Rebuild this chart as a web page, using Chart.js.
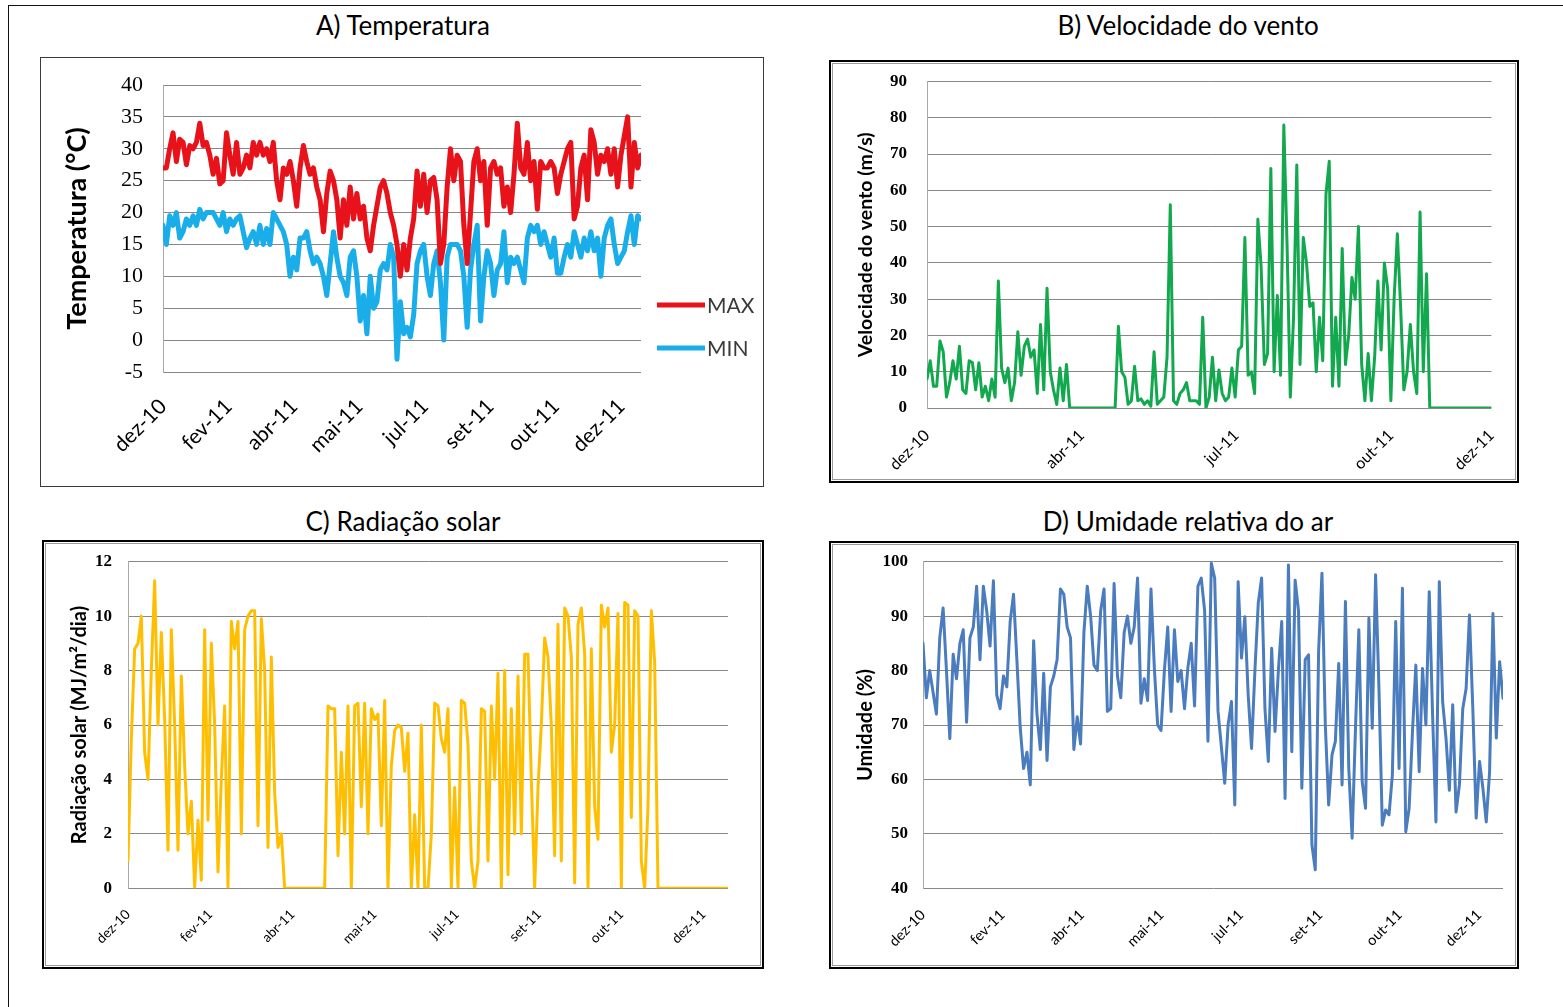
<!DOCTYPE html>
<html lang="pt">
<head>
<meta charset="utf-8">
<script src="https://cdn.jsdelivr.net/npm/chart.js@4.4.1/dist/chart.umd.min.js"></script>
<style>
  body { margin: 0; background: #fff; width: 1563px; height: 1007px; position: relative; overflow: hidden; font-family: Lato, "Open Sans", sans-serif; }
  .frame { position: absolute; left: 8px; top: 5px; width: 1600px; height: 1100px; border-left: 1.5px solid #111; border-top: 1.5px solid #111; }
  .title { position: absolute; width: 700px; text-align: center; font-size: 26px; line-height: 30px; color: #000; }
  .box { position: absolute; box-sizing: border-box; }
  .single { border: 1.5px solid #3a3a3a; }
  .double { border: 2.5px solid #000; }
  .double::after { content: ""; position: absolute; left: 1px; top: 1px; right: 1px; bottom: 1px; border: 1px solid #9a9a9a; }
  canvas { position: absolute; }
</style>
</head>
<body>
<div class="frame"></div>

<div class="title" style="left:53px; top:10px;">A) Temperatura</div>
<div class="title" style="left:838px; top:10px;">B) Velocidade do vento</div>
<div class="title" style="left:53px; top:506px;">C) Radiação solar</div>
<div class="title" style="left:838px; top:506px;">D) Umidade relativa do ar</div>

<div class="box single" style="left:40px; top:57px; width:724px; height:430px;"></div>
<div class="box double" style="left:829px; top:60px; width:690px; height:423px;"></div>
<div class="box double" style="left:42px; top:540px; width:722px; height:429px;"></div>
<div class="box double" style="left:829px; top:541px; width:690px; height:428px;"></div>

<canvas id="chartTemp" width="720" height="426" style="left:42px; top:59px;"></canvas>
<canvas id="chartWind" width="682" height="415" style="left:833px; top:64px;"></canvas>
<canvas id="chartSolar" width="714" height="421" style="left:46px; top:544px;"></canvas>
<canvas id="chartHum" width="682" height="420" style="left:833px; top:545px;"></canvas>

<script>
// eixo x: dias desde dez-10
const monthTicks = [0, 50, 100, 150, 200, 250, 300, 350];
const monthLabels = ["dez-10", "fev-11", "abr-11", "mai-11", "jul-11", "set-11", "out-11", "dez-11"];
const windTicks = [0, 100, 200, 300, 365];
const windLabels = ["dez-10", "abr-11", "jul-11", "out-11", "dez-11"];

// A) temperatura (°C)
const tempMax = [
  27, 27, 30, 32.5, 28, 31.5, 31, 27.5, 30.5, 30,
  31, 34, 30.5, 31, 29, 26, 28.5, 24.5, 25, 32.5,
  29, 26, 31, 26, 27, 29, 27, 31, 29, 31,
  29, 30, 28, 31, 25, 22, 27, 26, 28, 25,
  21, 27, 30.5, 28, 26, 27, 24, 22, 17, 23,
  26.5, 25, 22, 16, 22, 18, 24, 19, 23, 19,
  21, 16, 14, 18, 21, 24, 25, 23, 20, 18,
  15, 10, 15, 11, 16, 19, 26.5,
  21, 26, 20, 25, 25.5, 22, 12, 15, 24, 30,
  25, 29, 28, 18, 12, 20, 28, 30, 25, 28,
  18, 27, 28, 26, 27, 21, 24, 20, 26, 34,
  27, 26, 31, 25, 28, 20.5, 28, 27, 27, 28,
  27, 23, 26, 28, 30, 31, 19, 21, 27, 29,
  22, 33, 31, 26, 29, 28, 30, 26, 30, 24,
  29, 32, 35, 24, 31, 27, 29
];
const tempMin = [
  18, 15, 19.5, 18, 20, 16, 17, 19, 18, 19.5,
  18, 20.5, 19, 20, 20, 20, 19, 18, 20, 17,
  19, 18, 19, 19.5, 17, 14.5, 16, 17, 15, 18,
  15, 17.5, 15, 20, 19, 18, 17, 15, 10, 13,
  11, 16, 16, 17, 14, 12, 13, 12, 10, 7,
  12, 17, 13, 10, 9, 7, 13, 14, 10, 3,
  7, 1, 10, 5, 6, 11, 12, 11, 15, 13,
  -3, 6, 1, 2, 0.5, 4, 12,
  14, 15, 10, 7, 12, 14, 9, 0, 13, 15,
  15, 15, 14, 10, 2, 11, 15, 18, 3, 10,
  14, 12, 7, 11, 12, 17, 9, 13, 12, 13,
  11, 9, 16, 18, 17, 18, 15, 17, 15, 13,
  16, 10.5, 10.5, 13, 15, 13, 17, 15, 13, 16,
  14, 17, 14, 16, 10, 16, 18, 19, 15, 12,
  13, 14, 17, 19.5, 15, 19.5, 19
];

// B) velocidade do vento (m/s)
const windSpeed = [
  8, 13, 6, 6, 18.5, 15.5, 3, 7, 13, 8,
  17, 5, 4, 13, 12.5, 5, 12.5, 3, 6, 2,
  8, 3, 35, 11, 7, 11, 2, 7, 21, 9,
  17, 19, 14, 16, 4, 23, 5, 33, 10, 5,
  1, 11, 2, 12, 0, 0, 0, 0, 0, 0,
  0, 0, 0, 0, 0, 0, 0, 0, 0, 22.5,
  10, 8.5, 1, 2, 11.5, 2, 2.5, 1, 2, 0.5,
  15.5, 1, 2, 3, 14, 56, 2, 1, 4, 5,
  7, 2, 2,
  2, 1, 25, 0, 3, 14, 2, 10.5, 4, 2,
  3, 11, 3, 16, 17, 47, 9, 10, 4, 52,
  39, 12, 15, 66, 10, 31, 9, 78, 45, 3,
  25, 67, 12, 47, 40, 28, 29, 10, 25, 13,
  59, 68, 6, 25, 6, 44, 12, 20, 36, 30,
  50, 12, 2, 15, 2, 14, 35, 16, 40, 33,
  2, 30, 48, 28, 5, 10, 23, 10, 4, 54,
  10, 37, 0, 0, 0, 0, 0, 0, 0, 0,
  0, 0, 0, 0, 0, 0, 0, 0, 0, 0,
  0, 0
];

// C) radiação solar (MJ/m²/dia)
const solarRad = [
  1, 5.5, 8.8, 9, 10, 5, 4, 8, 11.3, 6,
  9.4, 6.2, 1.4, 9.5, 6, 1.4, 7.8, 4.5, 2, 3.2,
  0, 2.5, 0.3, 9.5, 2.5, 9, 6, 0.6, 4, 6.7,
  0, 9.8, 8.8, 9.8, 2, 9.5, 10, 10.2, 10.2, 2.3,
  9.9, 8, 1.5, 8.5, 3.5, 1.5, 2, 0, 0, 0,
  0, 0, 0, 0, 0, 0, 0, 0, 0, 0,
  6.7, 6.6, 6.6, 1.2, 5, 2, 6.7, 0, 6.7, 6.8,
  3, 6.8, 2, 6.6, 6.2, 6.4, 2.3, 6.9, 0, 4.5,
  5.8, 6, 5.9, 4.3, 5.7, 0, 2.7, 0,
  6, 0, 0, 2, 6.8, 6.7, 5.5, 5, 6.6, 0,
  3.7, 0, 6.9, 6.8, 5.3, 1, 0, 1, 6.6, 6.5,
  1, 6.7, 4, 7.9, 0, 8, 0.5, 6.6, 2, 7.8,
  2, 8.6, 8.6, 4, 0, 3.7, 6, 9.2, 8.5, 6,
  1.2, 9.7, 1, 10.3, 10, 8.5, 0.2, 9.7, 10.3, 8.6,
  0, 8.8, 3, 1.8, 10.4, 9.6, 10.3, 5, 6, 10.1,
  0, 10.5, 10.4, 2.6, 10.2, 10, 1, 0, 3, 10.2,
  8.3, 0, 0, 0, 0, 0, 0, 0, 0, 0,
  0, 0, 0, 0, 0, 0, 0, 0, 0, 0,
  0, 0, 0
];

// D) umidade relativa do ar (%)
const humidity = [
  85, 75, 80, 76, 72, 86, 91.5, 80, 67.5, 83,
  78.5, 85, 87.5, 70.5, 86, 88, 95.5, 82, 95.5, 91,
  84.5, 96.5, 75.5, 73, 79, 77, 89, 94, 82, 69.5,
  62, 65, 59, 85.5, 72, 65.5, 79.5, 63.5, 77, 79,
  82, 95, 94, 88, 86, 65.5, 71.5, 66.5, 87, 95.5,
  90, 81, 80, 91, 95, 72.5, 73, 96, 79, 75,
  87, 90, 85, 88, 97, 74, 78.5, 74.5, 95, 80.5,
  70, 69, 80, 88, 72.5, 87.5, 78, 80, 73, 80.5,
  85, 73.5, 95.5,
  97, 91, 67, 99.7, 97, 72.5, 66, 59.3, 70, 74.3,
  55.3, 96.3, 82.3, 89.9, 75.5, 65.7, 80, 92.4, 97, 73,
  63.3, 84.1, 68.8, 80, 89, 56.5, 99.4, 65.1, 96.6, 91,
  58.4, 82, 82.9, 48, 43.4, 83.5, 97.9, 70, 55.3, 64.5,
  67, 81.3, 59, 92.7, 62, 49.2, 69.4, 87.5, 59.6, 54.7,
  89.6, 69.4, 97.6, 76.7, 51.6, 54.4, 53.5, 60.8, 89, 62,
  95.1, 50.4, 54.7, 68.8, 81, 61.4, 80.4, 70, 94.5, 71.8,
  52.2, 96.3, 74.3, 67.6, 58, 73.7, 54, 59, 73, 76.7,
  90.2, 73, 52.9, 63.3, 58.4, 52.2, 61.4, 90.5, 67.6, 81.6,
  74.9
];

// espalha os valores ao longo dos 365 dias
const toPoints = arr => arr.map((v, i) => ({ x: i * 365 / (arr.length - 1), y: v }));

// legenda MAX / MIN do grafico A
const tempLegend = {
  id: "tempLegend",
  afterDraw(chart) {
    const { ctx, chartArea } = chart;
    const x = chartArea.right + 16;
    const rows = [246, 289];
    chart.data.datasets.forEach((ds, i) => {
      const y = rows[i];
      ctx.save();
      ctx.strokeStyle = ds.borderColor;
      ctx.lineWidth = 5;
      ctx.beginPath();
      ctx.moveTo(x, y);
      ctx.lineTo(x + 48, y);
      ctx.stroke();
      ctx.fillStyle = "#3a3a3a";
      ctx.font = "21px Lato";
      ctx.textBaseline = "middle";
      ctx.fillText(ds.label, x + 50, y + 1);
      ctx.restore();
    });
  }
};

function lineChart(id, o) {
  return new Chart(document.getElementById(id), {
    type: "line",
    data: {
      datasets: o.series.map(s => ({
        label: s.label,
        data: toPoints(s.values),
        borderColor: s.color,
        borderWidth: o.lineWidth,
        pointRadius: 0,
        tension: 0,
        borderJoinStyle: "round",
        borderCapStyle: "round"
      }))
    },
    options: {
      responsive: false,
      animation: false,
      devicePixelRatio: 1,
      layout: { padding: { top: o.padTop, right: o.padRight, left: 0, bottom: 0 } },
      plugins: { legend: { display: false }, tooltip: { enabled: false } },
      scales: {
        x: {
          type: "linear",
          min: 0,
          max: 365,
          grid: { display: false },
          border: { display: false },
          afterBuildTicks: ax => { ax.ticks = o.ticks.map(v => ({ value: v })); },
          afterFit: ax => { ax.height = o.xHeight; },
          ticks: {
            autoSkip: false,
            minRotation: 45,
            maxRotation: 45,
            padding: o.xPad,
            color: "#000",
            font: { family: "Lato", size: o.xFont },
            callback: v => o.tickLabels[o.ticks.indexOf(v)]
          }
        },
        y: {
          min: o.yMin,
          max: o.yMax,
          // tick marks invisiveis: so servem de espaco entre rotulo e eixo
          grid: { color: "#878787", lineWidth: 1, drawTicks: true, tickLength: o.yPad, tickColor: "rgba(0,0,0,0)" },
          border: { display: true, color: "#a8a8a8" },
          afterFit: ax => { ax.width = o.yWidth; },
          ticks: {
            stepSize: o.yStep,
            padding: 0,
            color: "#000",
            font: { family: "Liberation Serif", size: o.yFont, weight: o.yBold ? "bold" : "normal" }
          },
          title: {
            display: true,
            text: o.yTitle,
            color: "#000",
            padding: { top: o.titlePad, bottom: 0 },
            font: { family: "Lato", size: o.titleFont, weight: "bold" }
          }
        }
      }
    },
    plugins: o.plugins || []
  });
}

lineChart("chartTemp", {
  series: [
    { label: "MAX", values: tempMax, color: "#e8121a" },
    { label: "MIN", values: tempMin, color: "#19aeea" }
  ],
  lineWidth: 5,
  ticks: monthTicks, tickLabels: monthLabels,
  yMin: -5, yMax: 40, yStep: 5,
  padTop: 26, padRight: 121, yWidth: 121, xHeight: 113,
  xPad: 14, xFont: 21, yPad: 20, yFont: 22, yBold: false,
  yTitle: "Temperatura (°C)", titleFont: 27, titlePad: 19,
  plugins: [tempLegend]
});

lineChart("chartWind", {
  series: [{ label: "Velocidade do vento", values: windSpeed, color: "#12a84e" }],
  lineWidth: 3,
  ticks: windTicks, tickLabels: windLabels,
  yMin: 0, yMax: 90, yStep: 10,
  padTop: 17.5, padRight: 7, yWidth: 94, xHeight: 71,
  xPad: 10, xFont: 16, yPad: 20, yFont: 17, yBold: true,
  yTitle: "Velocidade do vento (m/s)", titleFont: 19.5, titlePad: 21
});

lineChart("chartSolar", {
  series: [{ label: "Radiação solar", values: solarRad, color: "#ffbf00" }],
  lineWidth: 3,
  ticks: monthTicks, tickLabels: monthLabels,
  yMin: 0, yMax: 12, yStep: 2,
  padTop: 17.7, padRight: 32, yWidth: 82, xHeight: 76.7,
  xPad: 10, xFont: 13.5, yPad: 16, yFont: 17, yBold: true,
  yTitle: "Radiação solar (MJ/m²/dia)", titleFont: 20, titlePad: 22
});

lineChart("chartHum", {
  series: [{ label: "Umidade", values: humidity, color: "#4a7cbe" }],
  lineWidth: 3,
  ticks: monthTicks, tickLabels: monthLabels,
  yMin: 40, yMax: 100, yStep: 10,
  padTop: 16.7, padRight: 12, yWidth: 90, xHeight: 76.7,
  xPad: 10, xFont: 14.5, yPad: 15, yFont: 17, yBold: true,
  yTitle: "Umidade (%)", titleFont: 20, titlePad: 21
});
</script>
</body>
</html>
